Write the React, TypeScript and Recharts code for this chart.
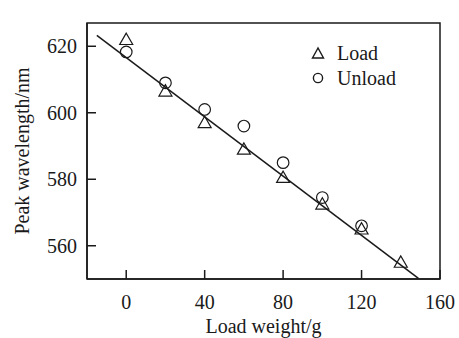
import {
  ReferenceArea,
  ReferenceLine,
  Scatter,
  ScatterChart,
  XAxis,
  YAxis,
} from "recharts"

// Load / unload response of peak wavelength against load weight
const LOAD_WEIGHT = [0, 20, 40, 60, 80, 100, 120, 140]
const LOAD_PEAK = [622, 606.5, 597, 589, 580.5, 572.5, 565, 555]
const UNLOAD_WEIGHT = [0, 20, 40, 60, 80, 100, 120]
const UNLOAD_PEAK = [618.3, 609, 601, 596, 585, 574.5, 566]
// linear fit, read at its two visible ends
const FIT_X = [-15, 149]
const FIT_Y = [623.3, 550.2]
const X_TICKS = [0, 40, 80, 120, 160]
const Y_TICKS = [560, 580, 600, 620]

const INK = "#1a1a1a"
const FONT = '"Liberation Serif", "Times New Roman", serif'

const loadData = LOAD_WEIGHT.map((w, i) => ({ w, p: LOAD_PEAK[i] }))
const unloadData = UNLOAD_WEIGHT.map((w, i) => ({ w, p: UNLOAD_PEAK[i] }))

function Triangle({ cx, cy }: { cx?: number; cy?: number }) {
  if (cx == null || cy == null) return null
  const r = 6.5
  return (
    <polygon
      points={`${cx},${cy - r} ${cx - r},${cy + r * 0.75} ${cx + r},${cy + r * 0.75}`}
      fill="none"
      stroke={INK}
      strokeWidth={1.2}
    />
  )
}

function Ring({ cx, cy }: { cx?: number; cy?: number }) {
  if (cx == null || cy == null) return null
  return <circle cx={cx} cy={cy} r={5.8} fill="none" stroke={INK} strokeWidth={1.2} />
}

// axis tick text, drawn by hand so the serif face sticks
function TickText(props: any) {
  const { x, y, payload, textAnchor, verticalAnchor } = props
  const dy = verticalAnchor === "start" ? "0.71em" : "0.355em"
  return (
    <text
      x={x}
      y={y}
      dy={dy}
      textAnchor={textAnchor}
      style={{ fontFamily: FONT, fontSize: 20, fill: INK }}
    >
      {payload.value}
    </text>
  )
}

// legend sits inside the plot box, top right
function LegendBox() {
  const row = { display: "flex", alignItems: "center", height: 25 }
  return (
    <div
      style={{
        position: "absolute",
        left: 311,
        top: 40,
        fontFamily: FONT,
        fontSize: 20,
        color: INK,
        lineHeight: 1,
      }}
    >
      <div style={row}>
        <svg width={14} height={14} style={{ marginRight: 12 }}>
          <polygon points="7,2 1.5,12 12.5,12" fill="none" stroke={INK} strokeWidth={1.4} />
        </svg>
        Load
      </div>
      <div style={row}>
        <svg width={14} height={14} style={{ marginRight: 12 }}>
          <circle cx={7} cy={7} r={4.6} fill="none" stroke={INK} strokeWidth={1.4} />
        </svg>
        Unload
      </div>
    </div>
  )
}

export default function App() {
  return (
    <div
      style={{
        position: "fixed",
        left: 0,
        top: 0,
        width: 459,
        height: 338,
        background: "#fff",
        fontFamily: FONT,
      }}
    >
      <ScatterChart
        width={459}
        height={338}
        margin={{ top: 23, right: 19, left: 27, bottom: 19 }}
        style={{ fontFamily: FONT }}
      >
        <XAxis
          type="number"
          dataKey="w"
          domain={[-20, 160]}
          ticks={X_TICKS}
          allowDataOverflow
          tick={<TickText />}
          tickSize={-9}
          tickMargin={25}
          height={40}
          axisLine={{ stroke: INK, strokeWidth: 1.5 }}
          tickLine={{ stroke: INK, strokeWidth: 1.5 }}
          label={{
            value: "Load weight/g",
            position: "bottom",
            offset: 0,
            style: { fontSize: 20, fill: INK, fontFamily: FONT },
          }}
        />
        <YAxis
          type="number"
          dataKey="p"
          domain={[550, 627]}
          ticks={Y_TICKS}
          allowDataOverflow
          tick={<TickText />}
          tickSize={-9}
          tickMargin={19}
          width={60}
          axisLine={{ stroke: INK, strokeWidth: 1.5 }}
          tickLine={{ stroke: INK, strokeWidth: 1.5 }}
          label={{
            value: "Peak wavelength/nm",
            angle: -90,
            position: "left",
            offset: 5,
            style: { fontSize: 20, fill: INK, fontFamily: FONT, textAnchor: "middle" },
          }}
        />
        <ReferenceArea
          x1={-20}
          x2={160}
          y1={550}
          y2={627}
          fill="none"
          stroke={INK}
          strokeWidth={1.5}
        />
        <ReferenceLine
          segment={[
            { x: FIT_X[0], y: FIT_Y[0] },
            { x: FIT_X[1], y: FIT_Y[1] },
          ]}
          stroke={INK}
          strokeWidth={1.5}
        />
        <Scatter data={loadData} shape={<Triangle />} isAnimationActive={false} />
        <Scatter data={unloadData} shape={<Ring />} isAnimationActive={false} />
      </ScatterChart>
      <LegendBox />
    </div>
  )
}
